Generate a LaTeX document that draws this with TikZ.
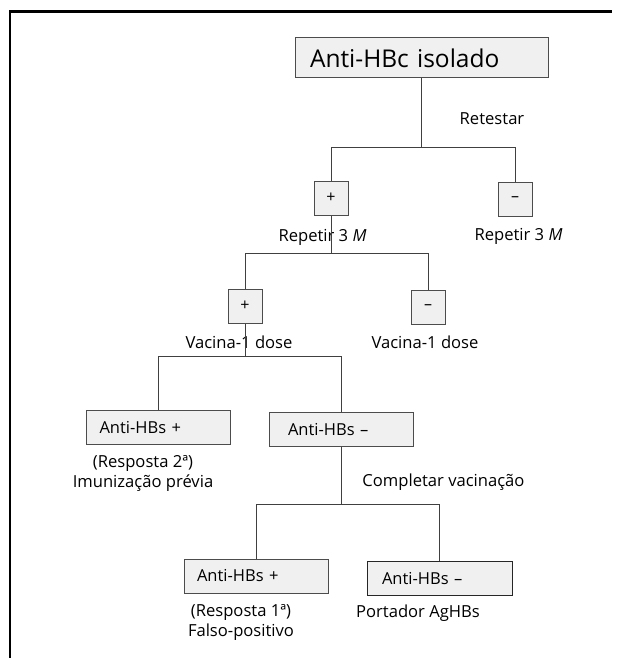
\documentclass[tikz,border=0pt]{standalone}
\usepackage{fontspec}
\setmainfont{Open Sans}
\usetikzlibrary{positioning}

\tikzset{
	caixa/.style={draw=black!70, fill=black!6, line width=1pt, minimum height=34pt, inner xsep=13pt, text width=118pt, align=left, font=\fontsize{16.5}{20}\selectfont},
	sinal/.style={draw=black!70, fill=black!6, line width=1pt, minimum size=34pt, inner sep=0pt, font=\fontsize{16}{18}\selectfont},
	rotulo/.style={inner sep=0pt, align=center, font=\fontsize{16.6}{20}\selectfont},
	linha/.style={black!75, line width=1pt}
}

\begin{document}
\begin{tikzpicture}[x=1pt,y=-1pt]
	\useasboundingbox (0,0) rectangle (618,658);
	% moldura
	\draw[line width=2.6pt] (10,658) -- (10,11.5) -- (612,11.5);

	\node[caixa, minimum height=40pt, inner xsep=15pt, text width=223pt, font=\fontsize{24.5}{28}\selectfont] (topo) at (421.5,58) {Anti-HBc isolado};

	\node[sinal] (mais1) at (331,198) {+};
	\node[sinal] (menos1) at (515,199.5) {–};
	\node[sinal] (mais2) at (245,306) {+};
	\node[sinal] (menos2) at (428,307) {–};

	\node[caixa] (pos1) at (158.5,427.5) {Anti-HBs +};
	\node[caixa, inner xsep=19pt, text width=106pt] (neg1) at (341,429.5) {Anti-HBs –};
	\node[caixa] (pos2) at (256,576) {Anti-HBs +};
	\node[caixa, draw=black!85, inner xsep=15pt, text width=115pt] (neg2) at (439.5,578.5) {Anti-HBs –};

	\node[rotulo] (retestar) at (492,119) {Retestar};
	\node[rotulo] (rep1) at (322.5,237) {Repetir 3 \textit{M}};
	\node[rotulo] (rep2) at (518.5,236) {Repetir 3 \textit{M}};
	\node[rotulo] (vac1) at (239,342) {Vacina-1 dose};
	\node[rotulo] (vac2) at (425,342) {Vacina-1 dose};
	\node[rotulo] (imun) at (143,473) {(Resposta 2ª)\\Imunização prévia};
	\node[rotulo] (compl) at (443.5,482) {Completar vacinação};
	\node[rotulo] (falso) at (241,622) {(Resposta 1ª)\\Falso-positivo};
	\node[rotulo] (port) at (418,613) {Portador AgHBs};

	% ramificacoes
	\coordinate (g1) at (421.5,147);
	\coordinate (g2) at (331,253);
	\coordinate (g3) at (245,356);
	\coordinate (g4) at (341,504);

	\draw[linha] (topo.south) -- (g1);
	\draw[linha] (mais1.north) |- (menos1.north |- g1) -- (menos1.north);

	\draw[linha] (mais1.south) -- (g2);
	\draw[linha] (mais2.north) |- (menos2.north |- g2) -- (menos2.north);

	\draw[linha] (mais2.south) -- (g3);
	\draw[linha] (pos1.north) |- (neg1.north |- g3) -- (neg1.north);

	\draw[linha] (neg1.south) -- (g4);
	\draw[linha] (pos2.north) |- (neg2.north |- g4) -- (neg2.north);
\end{tikzpicture}
\end{document}
